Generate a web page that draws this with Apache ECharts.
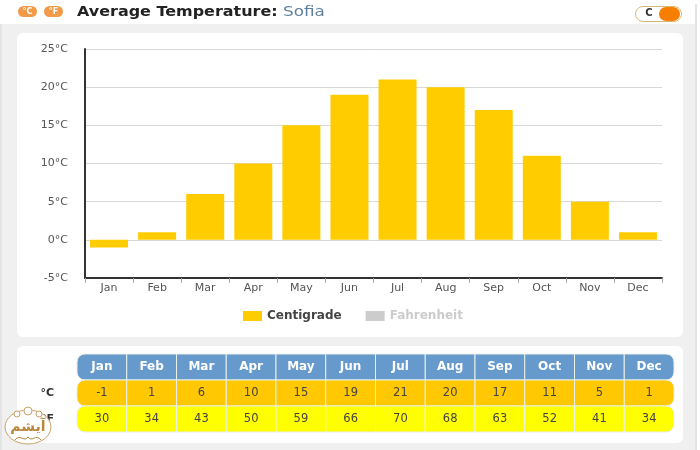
<!DOCTYPE html>
<html>
<head>
<meta charset="utf-8">
<style>
  html, body { margin: 0; padding: 0; background: #fff; }
  #main { width: 700px; height: 450px; }
</style>
<script src="https://cdn.jsdelivr.net/npm/echarts@6/dist/echarts.min.js"></script>
</head>
<body>
<div id="main"></div>
<script>
var months = ['Jan', 'Feb', 'Mar', 'Apr', 'May', 'Jun', 'Jul', 'Aug', 'Sep', 'Oct', 'Nov', 'Dec'];
var centigrade = [-1, 1, 6, 10, 15, 19, 21, 20, 17, 11, 5, 1];
var fahrenheit = [30, 34, 43, 50, 59, 66, 70, 68, 63, 52, 41, 34];
var tableRows = ['', '°C', '°F'];

var font = '"DejaVu Sans", Verdana, sans-serif';
var rowColors = ['#6699cc', '#ffc800', '#ffff00'];
var gold = '#c9a26a';

var chart = echarts.init(document.getElementById('main'));

// one cell of the table below the chart
function renderCell(params, api) {
  var col = api.value(0);
  var row = api.value(1);
  var center = api.coord([col, row]);
  var size = api.size([1, 1]);
  var x = center[0] - size[0] / 2;
  var y = center[1] - size[1] / 2;
  var tl = 0, tr = 0, br = 0, bl = 0;
  if (col === 0) { tl = 8; bl = 8; }
  if (col === months.length - 1) { tr = 8; br = 8; }
  return {
    type: 'group',
    children: [
      {
        type: 'rect',
        shape: { x: x, y: y, width: size[0], height: size[1], r: [tl, tr, br, bl] },
        style: { fill: rowColors[row], stroke: '#e8f0e8', lineWidth: 1 }
      },
      {
        type: 'text',
        style: {
          x: center[0],
          y: center[1],
          text: String(api.value(2)),
          align: 'center',
          verticalAlign: 'middle',
          fill: row === 0 ? '#fff' : '#444',
          font: (row === 0 ? 'bold 12px ' : '11.5px ') + font
        }
      }
    ]
  };
}

var cells = [];
months.forEach(function (m, i) {
  cells.push([i, 0, m]);
  cells.push([i, 1, centigrade[i]]);
  cells.push([i, 2, fahrenheit[i]]);
});

var option = {
  animation: false,
  textStyle: { fontFamily: font },
  graphic: [
    // page panels
    { type: 'rect', z: -10, shape: { x: 0, y: 24, width: 697, height: 426 }, style: { fill: '#f0f0f0' } },
    { type: 'rect', z: -10, shape: { x: 0, y: 24, width: 2, height: 426 }, style: { fill: '#e4e4e4' } },
    { type: 'rect', z: -10, shape: { x: 695, y: 4, width: 2, height: 446 }, style: { fill: '#e4e4e4' } },
    { type: 'rect', z: -9, shape: { x: 17, y: 33, width: 666, height: 304, r: 6 }, style: { fill: '#fff' } },
    { type: 'rect', z: -9, shape: { x: 17, y: 346, width: 666, height: 97, r: 6 }, style: { fill: '#fff' } },
    // header buttons
    { type: 'rect', shape: { x: 18, y: 6, width: 19, height: 11, r: 5.5 }, style: { fill: '#f09a4a' } },
    { type: 'text', style: { x: 27.5, y: 11.5, text: '°C', align: 'center', verticalAlign: 'middle', fill: '#fff', font: 'bold 8px ' + font } },
    { type: 'rect', shape: { x: 44, y: 6, width: 19, height: 11, r: 5.5 }, style: { fill: '#f09a4a' } },
    { type: 'text', style: { x: 53.5, y: 11.5, text: '°F', align: 'center', verticalAlign: 'middle', fill: '#fff', font: 'bold 8px ' + font } },
    // header title, stretched to the reference width
    { type: 'text', x: 77, y: 12, scaleX: 1.14, style: { text: 'Average Temperature:', verticalAlign: 'middle', fill: '#222', font: 'bold 14px ' + font } },
    { type: 'text', x: 283, y: 12, scaleX: 1.2, style: { text: 'Sofia', verticalAlign: 'middle', fill: '#5f7f9f', font: '14px ' + font } },
    // unit toggle
    { type: 'rect', shape: { x: 635.5, y: 6.5, width: 46, height: 15, r: 7.5 }, style: { fill: '#fff', stroke: '#d9b878', lineWidth: 1 } },
    { type: 'text', style: { x: 649, y: 13, text: 'C', align: 'center', verticalAlign: 'middle', fill: '#333', font: 'bold 10px ' + font } },
    { type: 'rect', shape: { x: 659, y: 7, width: 21, height: 14, r: 7 }, style: { fill: '#f77f00' } },
    // watermark
    { type: 'ellipse', z: 50, shape: { cx: 28, cy: 427, rx: 23, ry: 17 }, style: { fill: 'rgba(255,255,255,0.92)', stroke: gold, lineWidth: 1 } },
    { type: 'circle', z: 51, shape: { cx: 28, cy: 411, r: 4 }, style: { fill: '#fff', stroke: gold, lineWidth: 1 } },
    { type: 'circle', z: 51, shape: { cx: 17, cy: 414, r: 3 }, style: { fill: '#fff', stroke: gold, lineWidth: 1 } },
    { type: 'circle', z: 51, shape: { cx: 39, cy: 414, r: 3 }, style: { fill: '#fff', stroke: gold, lineWidth: 1 } },
    { type: 'bezierCurve', z: 51, shape: { x1: 15, y1: 440, x2: 28, y2: 437, cpx1: 20, cpy1: 433, cpx2: 24, cpy2: 443 }, style: { fill: 'none', stroke: '#b8863c', lineWidth: 1 } },
    { type: 'bezierCurve', z: 51, shape: { x1: 41, y1: 440, x2: 28, y2: 437, cpx1: 36, cpy1: 433, cpx2: 32, cpy2: 443 }, style: { fill: 'none', stroke: '#b8863c', lineWidth: 1 } },
    { type: 'text', z: 52, style: { x: 28, y: 427, text: 'آیشم', align: 'center', verticalAlign: 'middle', fill: '#b8863c', font: 'bold 14px "DejaVu Sans", sans-serif' } }
  ],
  legend: {
    data: ['Centigrade', 'Fahrenheit'],
    selected: { Centigrade: true, Fahrenheit: false },
    top: 305,
    left: 238,
    itemWidth: 19,
    itemHeight: 10,
    itemGap: 24,
    icon: 'rect',
    inactiveColor: '#ccc',
    textStyle: { fontSize: 12, fontWeight: 'bold', color: '#444' }
  },
  grid: [
    { left: 85, right: 38, top: 49, height: 229 },
    { left: 77, right: 26, top: 354, height: 78 }
  ],
  xAxis: [
    {
      type: 'category',
      gridIndex: 0,
      data: months,
      axisLine: { onZero: false, lineStyle: { color: '#333', width: 2 } },
      axisTick: { show: true, length: 5, lineStyle: { color: '#aaa' } },
      axisLabel: { color: '#555', fontSize: 11, margin: 5 }
    },
    {
      type: 'category',
      gridIndex: 1,
      data: months,
      axisLine: { show: false },
      axisTick: { show: false },
      axisLabel: { show: false }
    }
  ],
  yAxis: [
    {
      type: 'value',
      gridIndex: 0,
      min: -5,
      max: 25,
      interval: 5,
      axisLine: { show: true, lineStyle: { color: '#333', width: 2 } },
      axisTick: { show: false },
      axisLabel: { color: '#555', fontSize: 11, margin: 17, formatter: '{value}°C' },
      splitLine: { lineStyle: { color: '#d8d8d8' } }
    },
    {
      type: 'category',
      gridIndex: 1,
      inverse: true,
      data: tableRows,
      axisLine: { show: false },
      axisTick: { show: false },
      axisLabel: { color: '#333', fontSize: 11, fontWeight: 'bold', margin: 23 }
    }
  ],
  series: [
    {
      name: 'Centigrade',
      type: 'bar',
      xAxisIndex: 0,
      yAxisIndex: 0,
      data: centigrade,
      barWidth: 38,
      itemStyle: { color: '#ffcc00' }
    },
    {
      name: 'Fahrenheit',
      type: 'bar',
      xAxisIndex: 0,
      yAxisIndex: 0,
      data: fahrenheit,
      itemStyle: { color: '#ccc' }
    },
    {
      type: 'custom',
      xAxisIndex: 1,
      yAxisIndex: 1,
      data: cells,
      renderItem: renderCell,
      silent: true
    }
  ]
};

chart.setOption(option);
</script>
</body>
</html>
